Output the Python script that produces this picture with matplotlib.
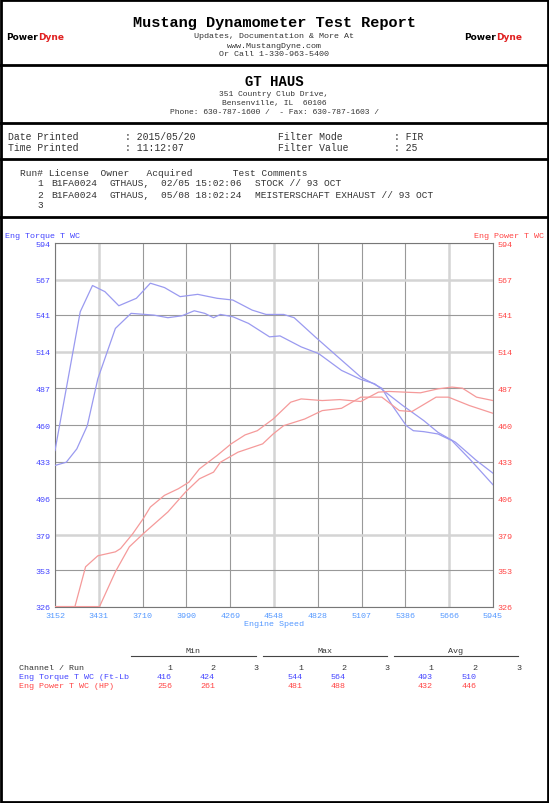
import matplotlib
matplotlib.use("Agg")
import matplotlib.pyplot as plt
from matplotlib.patches import Rectangle

W, H = 549, 804
MONO = "Liberation Mono"

# read-off curves (rpm, value)
torque_a_rpm = [3152, 3313, 3391, 3470, 3559, 3671, 3760, 3850, 3950, 4062, 4185, 4286, 4409, 4498,
                4610, 4677, 4811, 4968, 5102, 5236, 5303, 5392, 5437, 5504, 5594, 5683, 5795, 5945]
torque_a = [441.2, 543.4, 562.7, 558.2, 547.8, 553.3, 564.4, 561.2, 554.5, 556.2, 553.3, 552.0, 544.6, 541.4,
            541.4, 539.0, 524.9, 508.9, 495.3, 487.1, 474.3, 459.5, 455.8, 455.1, 453.4, 448.5, 435.1, 416.0]
torque_b_rpm = [3152, 3224, 3291, 3358, 3425, 3537, 3637, 3783, 3872, 3961, 4040, 4107, 4163, 4207, 4286,
                4386, 4520, 4587, 4722, 4833, 4979, 5102, 5191, 5370, 5504, 5594, 5706, 5840, 5945]
torque_b = [430.2, 432.6, 442.4, 459.5, 494.0, 531.1, 542.2, 540.9, 539.0, 540.4, 544.1, 542.2, 539.0, 541.4, 539.7,
            534.8, 524.9, 525.6, 517.5, 512.6, 500.2, 493.6, 490.3, 474.3, 463.2, 454.6, 447.3, 433.8, 424.5]
power_a_rpm = [3152, 3279, 3347, 3425, 3537, 3570, 3648, 3715, 3760, 3850, 3939, 4006, 4073, 4185, 4275, 4364,
               4442, 4543, 4655, 4722, 4856, 4968, 5102, 5214, 5281, 5482, 5594, 5683, 5750, 5840, 5945]
power_a = [326.3, 326.3, 355.6, 363.7, 366.6, 369.0, 380.0, 391.1, 399.6, 408.2, 413.1, 417.9, 427.7, 437.5, 446.1, 452.7,
           455.8, 464.4, 476.8, 479.2, 478.0, 478.7, 477.3, 484.2, 484.7, 483.7, 486.6, 487.9, 487.1, 480.5, 478.0]
power_b_rpm = [3152, 3436, 3537, 3626, 3715, 3872, 3984, 4073, 4163, 4207, 4319, 4476, 4543, 4610, 4744,
               4856, 4979, 5102, 5236, 5348, 5428, 5582, 5661, 5795, 5945]
power_b = [326.3, 326.3, 351.9, 370.3, 380.0, 396.0, 410.6, 420.4, 425.3, 432.6, 440.0, 446.1, 453.4, 459.5, 464.4,
           470.6, 472.3, 480.5, 480.5, 470.6, 469.9, 480.5, 480.5, 474.3, 468.6]

x_ticks = [3152, 3431, 3710, 3990, 4269, 4548, 4828, 5107, 5386, 5666, 5945]
y_ticks = [326, 353, 379, 406, 433, 460, 487, 514, 541, 567, 594]

runs = [("1", "B1FA0024", "GTHAUS,", "02/05 15:02:06", "STOCK // 93 OCT"),
        ("2", "B1FA0024", "GTHAUS,", "05/08 18:02:24", "MEISTERSCHAFT EXHAUST // 93 OCT"),
        ("3", "", "", "", "")]
torque_stats = ["416", "424", "", "544", "564", "", "493", "510", ""]
power_stats = ["256", "261", "", "481", "488", "", "432", "446", ""]

BLUE, RED = "#4444ff", "#ff4444"

fig = plt.figure(figsize=(W / 100, H / 100), dpi=100)


def T(x, y, s, size=6.5, color="#333", ha="left", **kw):
    fig.text(x / W, 1 - y / H, s, fontsize=size, color=color, ha=ha, va="center",
             family=MONO, **kw)


def hline(y, x0=0, x1=W, lw=2.0, color="black"):
    fig.add_artist(plt.Line2D([x0 / W, x1 / W], [1 - y / H, 1 - y / H], lw=lw, color=color))


# frame and section separators
fig.add_artist(Rectangle((1 / W, 1 / H), (W - 2) / W, (H - 2) / H, fill=False, lw=2, ec="black",
                         transform=fig.transFigure))
for yy in [66, 124, 160, 218]:
    hline(yy)

# header
T(274, 23, "Mustang Dynamometer Test Report", size=11, color="black", ha="center", weight="bold")
T(274, 37, "Updates, Documentation & More At", size=6, ha="center")
T(274, 46, "www.MustangDyne.com", size=6, ha="center")
T(274, 54, "Or Call 1-330-963-5400", size=6, ha="center")
for lx in [16, 474]:
    fig.text((lx + 22) / W, 1 - 37 / H, "Power", fontsize=6.5, weight="bold", color="black",
             family="DejaVu Sans", va="center", ha="right")
    fig.text((lx + 22) / W, 1 - 37 / H, "Dyne", fontsize=6.5, weight="bold", color="#e02020",
             family="DejaVu Sans", va="center", ha="left")

T(274, 82, "GT HAUS", size=10, color="black", ha="center", weight="bold")
T(274, 95, "351 Country Club Drive,", size=5.8, ha="center")
T(274, 104, "Bensenville, IL  60106", size=5.8, ha="center")
T(274, 113, "Phone: 630-787-1600 /  - Fax: 630-787-1603 /", size=5.8, ha="center")

T(8, 137, "Date Printed", size=7)
T(8, 148, "Time Printed", size=7)
T(125, 137, ": 2015/05/20", size=7)
T(125, 148, ": 11:12:07", size=7)
T(278, 137, "Filter Mode", size=7)
T(278, 148, "Filter Value", size=7)
T(394, 137, ": FIR", size=7)
T(394, 148, ": 25", size=7)

T(20, 173, "Run# License  Owner   Acquired       Test Comments", size=6.8)
for i, (n, lic, own, acq, com) in enumerate(runs):
    y = 184 + 11 * i
    T(43, y, n, size=6.8, ha="right")
    T(51, y, lic, size=6.8)
    T(109, y, own, size=6.8)
    T(161, y, acq, size=6.8)
    T(255, y, com, size=6.8)

# chart
ax = fig.add_axes([55 / W, 1 - 608 / H, 438 / W, 364 / H])
for xt in x_ticks:
    thick = xt in (3431, 4548, 5666)
    ax.axvline(xt, color="#d4d4d4" if thick else "#999999", lw=1.8 if thick else 0.8, zorder=1)
for yt in y_ticks:
    thick = yt in (567, 514, 379)
    ax.axhline(yt, color="#d4d4d4" if thick else "#999999", lw=1.8 if thick else 0.8, zorder=1)
ax.plot(torque_a_rpm, torque_a, color="#9a9af0", lw=0.9, zorder=3)
ax.plot(torque_b_rpm, torque_b, color="#9a9af0", lw=0.9, zorder=3)
ax.plot(power_a_rpm, power_a, color="#f59a9a", lw=0.9, zorder=3)
ax.plot(power_b_rpm, power_b, color="#f59a9a", lw=0.9, zorder=3)
ax.set_xlim(3152, 5945)
ax.set_ylim(326, 594)
ax.set_xticks(x_ticks)
ax.set_yticks(y_ticks)
ax.tick_params(length=0, labelsize=6)
for lab in ax.get_xticklabels():
    lab.set_family(MONO); lab.set_color("#5599ff")
for lab in ax.get_yticklabels():
    lab.set_family(MONO); lab.set_color(BLUE)
ax.set_xlabel("Engine Speed", fontsize=6, color="#5599ff", family=MONO, labelpad=1)
for s in ax.spines.values():
    s.set_color("#777"); s.set_linewidth(0.8)
ax2 = ax.twinx()
ax2.set_ylim(326, 594)
ax2.set_yticks(y_ticks)
ax2.tick_params(length=0, labelsize=6, labelcolor=RED)
for lab in ax2.get_yticklabels():
    lab.set_family(MONO)
for s in ax2.spines.values():
    s.set_visible(False)

T(5, 236, "Eng Torque T WC", size=6, color=BLUE)
T(544, 236, "Eng Power T WC", size=6, color=RED, ha="right")

# stats table
for lab, cx, x0, x1 in [("Min", 193, 131, 256), ("Max", 325, 263, 387), ("Avg", 456, 394, 518)]:
    T(cx, 652, lab, size=6, ha="center")
    hline(657, x0, x1, lw=0.8, color="#444")
col_x = [172, 215, 258, 303, 346, 389, 433, 477, 521]
T(19, 669, "Channel / Run", size=6)
T(19, 678, "Eng Torque T WC (Ft-Lb", size=6, color=BLUE)
T(19, 687, "Eng Power T WC (HP)", size=6, color=RED)
for i, cx in enumerate(col_x):
    T(cx, 669, str(i % 3 + 1), size=6, ha="right")
    T(cx, 678, torque_stats[i], size=6, color=BLUE, ha="right")
    T(cx, 687, power_stats[i], size=6, color=RED, ha="right")

fig.savefig("out.png", dpi=100)
